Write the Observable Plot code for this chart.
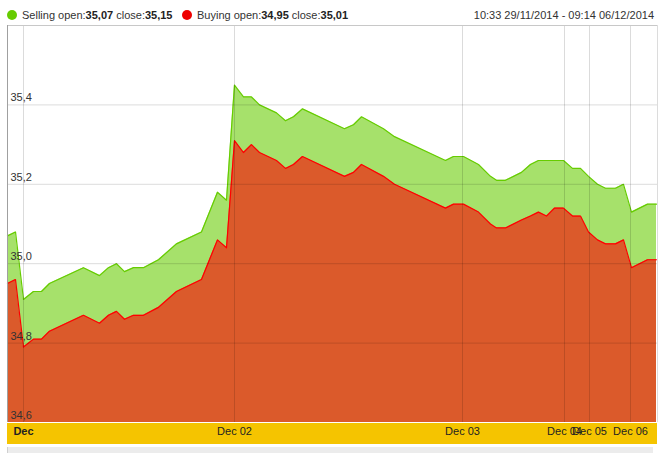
<!DOCTYPE html>
<html>
<head>
<meta charset="utf-8">
<script src="https://cdn.jsdelivr.net/npm/d3@7"></script>
<script src="https://cdn.jsdelivr.net/npm/@observablehq/plot@0.6"></script>
<style>
  html, body { margin: 0; padding: 0; background: #fff; }
  #wrap { position: relative; width: 664px; height: 453px; font-family: "Liberation Sans", Arial, sans-serif; font-size: 11px; color: #333; overflow: hidden; }
  .dot { position: absolute; width: 10px; height: 10px; border-radius: 50%; top: 10px; }
  .lg { position: absolute; top: 9px; line-height: 13px; white-space: nowrap; }
  .lg b { font-weight: bold; color: #222; }
  #band { position: absolute; left: 7px; top: 423px; width: 650px; height: 21px; background: #f5c400; }
  #strip { position: absolute; left: 7px; top: 447px; width: 645px; height: 6px; background: #ececec; border-left: 1px solid #d0d0d0; }
  #chart { position: absolute; left: 0; top: 25px; }
</style>
</head>
<body>
<div id="wrap">
  <div class="dot" style="left:7px;background:#66cc00"></div>
  <div class="lg" style="left:22px">Selling open:<b id="so"></b> close:<b id="sc"></b></div>
  <div class="dot" style="left:182px;background:#ee0000"></div>
  <div class="lg" style="left:197px">Buying open:<b id="bo"></b> close:<b id="bc"></b></div>
  <div class="lg" style="right:10px" id="range"></div>
  <div id="band"></div>
  <div id="strip"></div>
  <div id="chart"></div>
</div>
<script>
// ---- data ----
const rangeLabel = "10:33 29/11/2014 - 09:14 06/12/2014";
// position of each quote along the (gap-compressed) time axis
const t = [0, 8, 16, 26, 34, 42, 76, 92, 101, 109, 117, 126, 136, 151, 169, 194, 210, 219, 227, 236, 244, 252, 269, 278, 286, 295, 337, 346, 354, 376, 387, 438, 446, 456, 471, 483, 489, 498, 514, 523, 531, 539, 547, 556, 565, 573, 581, 590, 598, 608, 616, 624, 640, 649];
const sell = [35.07, 35.08, 34.91, 34.93, 34.93, 34.95, 34.99, 34.97, 34.99, 35.00, 34.98, 34.99, 34.99, 35.01, 35.05, 35.08, 35.18, 35.16, 35.45, 35.42, 35.42, 35.40, 35.38, 35.36, 35.37, 35.39, 35.34, 35.35, 35.37, 35.34, 35.32, 35.26, 35.27, 35.27, 35.25, 35.22, 35.21, 35.21, 35.23, 35.25, 35.26, 35.26, 35.26, 35.26, 35.24, 35.24, 35.22, 35.20, 35.19, 35.19, 35.20, 35.13, 35.15, 35.15];
const buy = [34.95, 34.96, 34.79, 34.81, 34.81, 34.83, 34.87, 34.85, 34.87, 34.88, 34.86, 34.87, 34.87, 34.89, 34.93, 34.96, 35.06, 35.04, 35.31, 35.28, 35.30, 35.28, 35.26, 35.24, 35.25, 35.27, 35.22, 35.23, 35.25, 35.22, 35.20, 35.14, 35.15, 35.15, 35.13, 35.10, 35.09, 35.09, 35.11, 35.12, 35.13, 35.12, 35.14, 35.14, 35.12, 35.12, 35.08, 35.06, 35.05, 35.05, 35.06, 34.99, 35.01, 35.01];
const xTicks = [16, 227, 455, 557, 582, 623];
const xTickLabels = ["Dec", "Dec 02", "Dec 03", "Dec 04", "Dec 05", "Dec 06"];
const yTicks = [34.6, 34.8, 35.0, 35.2, 35.4];
const yDomain = [34.6, 35.6];
const xDomain = [0, 650];
const openSell = 35.07, closeSell = 35.15, openBuy = 34.95, closeBuy = 35.01;

// ---- build ----
const fmt = d => d.toFixed(2).replace(".", ",");
document.getElementById("so").textContent = fmt(openSell);
document.getElementById("sc").textContent = fmt(closeSell);
document.getElementById("bo").textContent = fmt(openBuy);
document.getElementById("bc").textContent = fmt(closeBuy);
document.getElementById("range").textContent = rangeLabel;

const rows = t.map((d, i) => ({t: d, sell: sell[i], buy: buy[i]}));
const xt = xTicks.map((d, i) => ({t: d, label: xTickLabels[i]}));

const chart = Plot.plot({
  width: 664,
  height: 428,
  marginTop: 0,
  marginBottom: 31,
  marginLeft: 7,
  marginRight: 7,
  x: {domain: xDomain, axis: null},
  y: {domain: yDomain, axis: null},
  style: {background: "transparent", fontFamily: "'Liberation Sans', Arial, sans-serif", fontSize: "11px", color: "#333"},
  marks: [
    Plot.areaY(rows, {x: "t", y1: yDomain[0], y2: "sell", fill: "#66cc00", fillOpacity: 0.58}),
    Plot.areaY(rows, {x: "t", y1: yDomain[0], y2: "buy", fill: "#ff0000", fillOpacity: 0.6}),
    Plot.line(rows, {x: "t", y: "sell", stroke: "#66cc00", strokeWidth: 1.2}),
    Plot.line(rows, {x: "t", y: "buy", stroke: "#ff0000", strokeWidth: 1.2}),
    Plot.ruleY(yTicks.slice(1), {stroke: "#000", strokeOpacity: 0.14}),
    Plot.ruleX(xTicks, {stroke: "#000", strokeOpacity: 0.14}),
    Plot.ruleY([yDomain[1]], {stroke: "#c8c8c8"}),
    Plot.ruleX([xDomain[0]], {stroke: "#a0a0a0"}),
    Plot.ruleX([xDomain[1]], {stroke: "#dcdcdc"}),
    Plot.text(yTicks, {y: d => d, text: d => d.toFixed(1).replace(".", ","), frameAnchor: "left", textAnchor: "start", dx: 3, dy: -7, fill: "#333"}),
    Plot.text(xt.slice(0, 1), {x: "t", text: "label", frameAnchor: "bottom", dy: 12, fill: "#222", fontWeight: "bold"}),
    Plot.text(xt.slice(1), {x: "t", text: "label", frameAnchor: "bottom", dy: 12, fill: "#222"})
  ]
});
document.getElementById("chart").appendChild(chart);
</script>
</body>
</html>
